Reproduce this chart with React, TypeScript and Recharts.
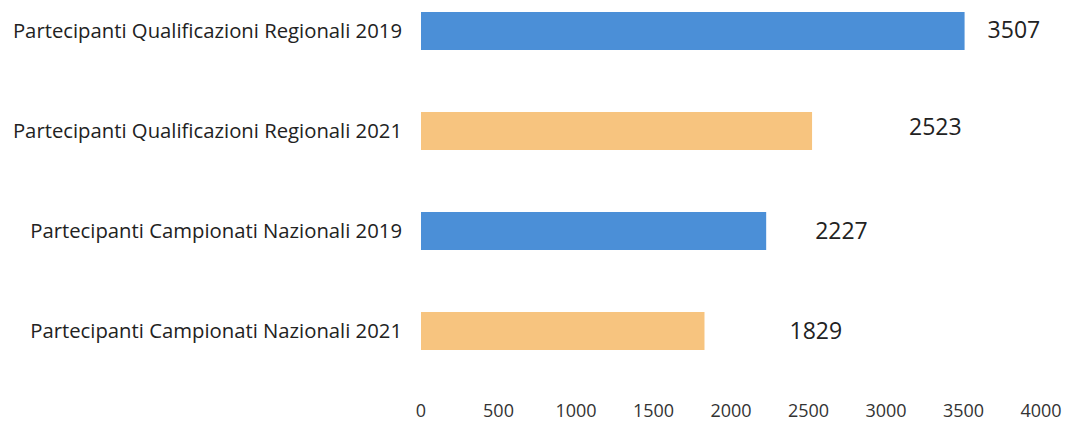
import React from "react";
import { BarChart, Bar, XAxis, YAxis, Cell, LabelList } from "recharts";

const categories = [
  "Partecipanti Qualificazioni Regionali 2019",
  "Partecipanti Qualificazioni Regionali 2021",
  "Partecipanti Campionati Nazionali 2019",
  "Partecipanti Campionati Nazionali 2021",
];
const values = [3507, 2523, 2227, 1829];
const xTicks = [0, 500, 1000, 1500, 2000, 2500, 3000, 3500, 4000];

const barColors = ["#4b8fd7", "#f7c47f", "#4b8fd7", "#f7c47f"];
const labelDx = [23, 97, 49, 85];
const labelDy = [-2, -5, -1, -1];

const data = categories.map((c, i) => ({ name: c, value: values[i] }));

const FONT = "'Open Sans', Lato, sans-serif";

const ValueLabel = (props: any) => {
  const { x, y, width, height, value, index } = props;
  return (
    <text
      x={x + width + labelDx[index]}
      y={y + height / 2 + labelDy[index]}
      fill="#222"
      fontSize={23}
      fontFamily={FONT}
      dominantBaseline="central"
      textAnchor="start"
    >
      {value}
    </text>
  );
};

export default function App() {
  return (
    <div style={{ position: "absolute", left: 0, top: -19, background: "#fff" }}>
      <BarChart
        width={1066}
        height={441}
        data={data}
        layout="vertical"
        margin={{ top: 0, right: 25, bottom: 0, left: 0 }}
        barCategoryGap={31}
      >
        <XAxis
          type="number"
          domain={[0, 4000]}
          ticks={xTicks}
          axisLine={false}
          tickLine={false}
          tickSize={0}
          tickMargin={23}
          height={41}
          interval={0}
          tick={{ fill: "#333", fontSize: 18, fontFamily: FONT }}
        />
        <YAxis
          type="category"
          dataKey="name"
          width={421}
          axisLine={false}
          tickLine={false}
          tickSize={0}
          tickMargin={19}
          interval={0}
          tick={{ fill: "#222", fontSize: 20.3, fontFamily: FONT }}
        />
        <Bar dataKey="value" isAnimationActive={false}>
          {data.map((d, i) => (
            <Cell key={d.name} fill={barColors[i]} />
          ))}
          <LabelList dataKey="value" content={ValueLabel} />
        </Bar>
      </BarChart>
    </div>
  );
}
